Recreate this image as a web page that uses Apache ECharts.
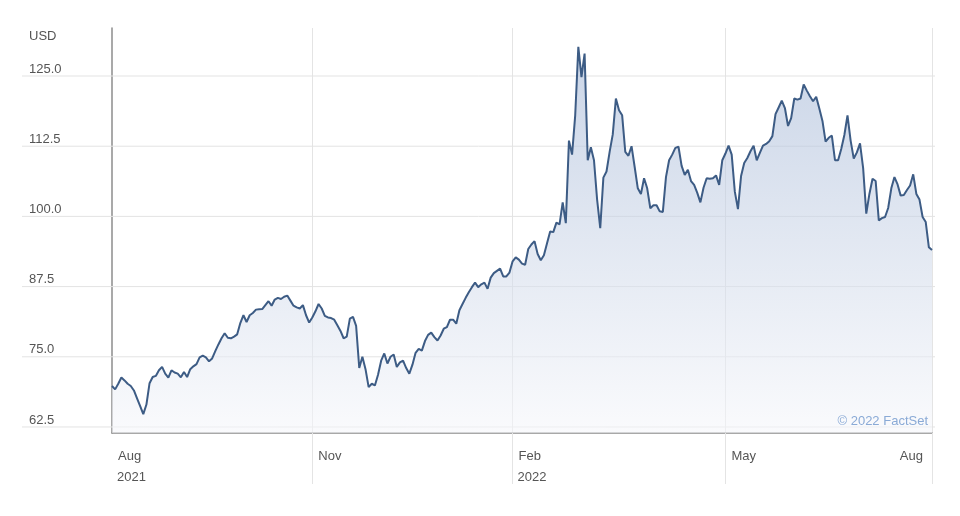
<!DOCTYPE html>
<html>
<head>
<meta charset="utf-8">
<script src="https://cdn.jsdelivr.net/npm/echarts@6/dist/echarts.min.js"></script>
<style>
  html, body { margin: 0; padding: 0; background: #ffffff; }
  #chart { width: 960px; height: 516px; }
</style>
</head>
<body>
<div id="chart"></div>
<script>
// Daily closing prices (USD), Aug 2021 - Aug 2022
const prices = [
  69.8, 69.2, 70.2, 71.3, 70.8, 70.2, 69.8, 69.0, 67.6, 66.2,
  64.8, 66.5, 70.3, 71.4, 71.6, 72.6, 73.2, 72.0, 71.3, 72.6,
  72.2, 72.0, 71.35, 72.3, 71.4, 72.8, 73.3, 73.7, 74.9, 75.2,
  74.9, 74.2, 74.7, 76.0, 77.2, 78.3, 79.2, 78.4, 78.3, 78.6,
  79.0, 81.0, 82.4, 81.2, 82.4, 82.8, 83.4, 83.45, 83.5, 84.2,
  84.9, 84.1, 85.2, 85.5, 85.3, 85.7, 85.9, 85.0, 84.1, 83.8,
  83.6, 84.2, 82.4, 81.1, 82.0, 83.1, 84.4, 83.6, 82.3, 82.0,
  81.9, 81.6, 80.6, 79.6, 78.3, 78.6, 81.8, 82.1, 80.5, 73.0,
  75.0, 72.8, 69.6, 70.2, 69.9, 71.8, 74.3, 75.6, 73.8, 75.0,
  75.4, 73.2, 74.0, 74.3, 73.0, 72.0, 73.6, 75.7, 76.4, 76.1,
  77.8, 78.9, 79.3, 78.5, 77.9, 78.8, 80.0, 80.3, 81.6, 81.6,
  80.9, 83.3, 84.4, 85.5, 86.5, 87.4, 88.2, 87.4, 87.9, 88.2,
  87.1, 89.1, 89.9, 90.3, 90.7, 89.3, 89.3, 90.0, 92.0, 92.7,
  92.3, 91.6, 91.4, 94.2, 95.0, 95.6, 93.3, 92.2, 93.1, 95.2,
  97.3, 97.2, 98.9, 98.6, 102.5, 98.8, 113.5, 111.0, 118.0, 130.2,
  124.8, 129.0, 110.0, 112.3, 110.0, 103.0, 97.9, 106.9, 108.0, 111.5,
  114.6, 121.0, 118.9, 118.0, 111.5, 110.8, 112.5, 108.8, 105.0, 104.0,
  106.8, 105.0, 101.45, 102.0, 102.0, 100.9, 100.8, 107.0, 110.0, 111.0,
  112.2, 112.4, 109.0, 107.4, 108.3, 106.3, 105.6, 104.2, 102.5, 105.1,
  106.8, 106.7, 106.8, 107.3, 105.6, 110.0, 111.2, 112.6, 111.0, 104.4,
  101.3, 107.2, 109.5, 110.4, 111.6, 112.6, 110.0, 111.3, 112.6, 112.9,
  113.4, 114.3, 118.2, 119.4, 120.6, 119.3, 116.1, 117.5, 121.0, 120.8,
  121.0, 123.5, 122.4, 121.4, 120.5, 121.3, 119.2, 117.0, 113.3, 114.0,
  114.4, 110.0, 110.0, 112.0, 114.5, 118.0, 113.5, 110.3, 111.4, 113.0,
  108.6, 100.5, 104.0, 106.7, 106.3, 99.3, 99.7, 99.9, 101.5, 105.0,
  107.0, 105.7, 103.7, 103.8, 104.7, 105.5, 107.5, 104.0, 103.0, 99.9,
  99.0, 94.5, 94.0
];
const categories = prices.map((_, i) => 'd' + i);

// x-axis month ticks (category index) and their labels
const xTickIndex = [0, 64, 128, 196, 262];
const xTickMonth = ['Aug', 'Nov', 'Feb', 'May', 'Aug'];
const xTickYear = ['2021', '', '2022', '', ''];

// y-axis ticks and range
const yTicks = [62.5, 75, 87.5, 100, 112.5, 125];
const yTickLabels = ['62.5', '75.0', '87.5', '100.0', '112.5', '125.0'];
const yMin = 61.43;
const yMax = 133.55;
const currencyLabel = 'USD';
const creditText = '\u00A9 2022 FactSet';

const FONT = '"Liberation Sans", Arial, Helvetica, sans-serif';
const chart = echarts.init(document.getElementById('chart'));

const isTick = (i) => xTickIndex.indexOf(i) > 0;

chart.setOption({
  animation: false,
  grid: { left: 112, right: 28, top: 28, bottom: 83 },
  xAxis: {
    type: 'category',
    data: categories,
    boundaryGap: false,
    axisLine: { show: true, lineStyle: { color: '#8c8c8c', width: 1.5 } },
    axisTick: { show: true, length: 51, interval: (i) => isTick(i), lineStyle: { color: '#e4e4e4', width: 1 } },
    axisLabel: { show: false },
    splitLine: { show: true, interval: (i) => isTick(i), lineStyle: { color: '#e4e4e4', width: 1 } }
  },
  yAxis: {
    type: 'value',
    min: yMin,
    max: yMax,
    axisLine: { show: true, lineStyle: { color: '#8c8c8c', width: 1.5 } },
    axisTick: { show: false },
    axisLabel: { show: false },
    splitLine: { show: false }
  },
  series: [{
    type: 'line',
    data: prices,
    symbol: 'none',
    smooth: false,
    lineStyle: { color: '#3d5c85', width: 2 },
    areaStyle: {
      color: new echarts.graphic.LinearGradient(0, 0, 0, 1, [
        { offset: 0, color: 'rgba(161,181,213,0.8)' },
        { offset: 1, color: 'rgba(246,247,251,0.8)' }
      ])
    },
    z: 3
  }]
});

// Gridlines and labels positioned through the chart's own scales
const elements = [];
yTicks.forEach((v, k) => {
  const py = chart.convertToPixel({ yAxisIndex: 0 }, v);
  elements.push({
    type: 'line', z: 1, silent: true,
    shape: { x1: 22, y1: py, x2: 935, y2: py },
    style: { stroke: '#e3e3e3', lineWidth: 1 }
  });
  elements.push({
    type: 'text', z: 10, silent: true,
    x: 29, y: py - 7,
    style: { text: yTickLabels[k], fill: '#555555', font: '13px ' + FONT,
             textAlign: 'left', textVerticalAlign: 'middle', align: 'left', verticalAlign: 'middle' }
  });
});
elements.push({
  type: 'text', z: 10, silent: true, x: 29, y: 36,
  style: { text: currencyLabel, fill: '#555555', font: '13px ' + FONT,
           textAlign: 'left', textVerticalAlign: 'middle', align: 'left', verticalAlign: 'middle' }
});
xTickIndex.forEach((idx, k) => {
  const px = chart.convertToPixel({ xAxisIndex: 0 }, idx);
  const last = k === xTickIndex.length - 1;
  const tx = last ? px - 9 : px + 6;
  const al = last ? 'right' : 'left';
  elements.push({
    type: 'text', z: 10, silent: true, x: tx, y: 456,
    style: { text: xTickMonth[k], fill: '#555555', font: '13px ' + FONT,
             textAlign: al, textVerticalAlign: 'middle', align: al, verticalAlign: 'middle' }
  });
  if (xTickYear[k]) {
    elements.push({
      type: 'text', z: 10, silent: true, x: px + 5, y: 477,
      style: { text: xTickYear[k], fill: '#555555', font: '13px ' + FONT,
               textAlign: 'left', textVerticalAlign: 'middle', align: 'left', verticalAlign: 'middle' }
    });
  }
});
elements.push({
  type: 'text', z: 10, silent: true, x: 928, y: 421,
  style: { text: creditText, fill: '#8aaad6', font: '13px ' + FONT,
           textAlign: 'right', textVerticalAlign: 'middle', align: 'right', verticalAlign: 'middle' }
});
chart.setOption({ graphic: { elements: elements } });
</script>
</body>
</html>
